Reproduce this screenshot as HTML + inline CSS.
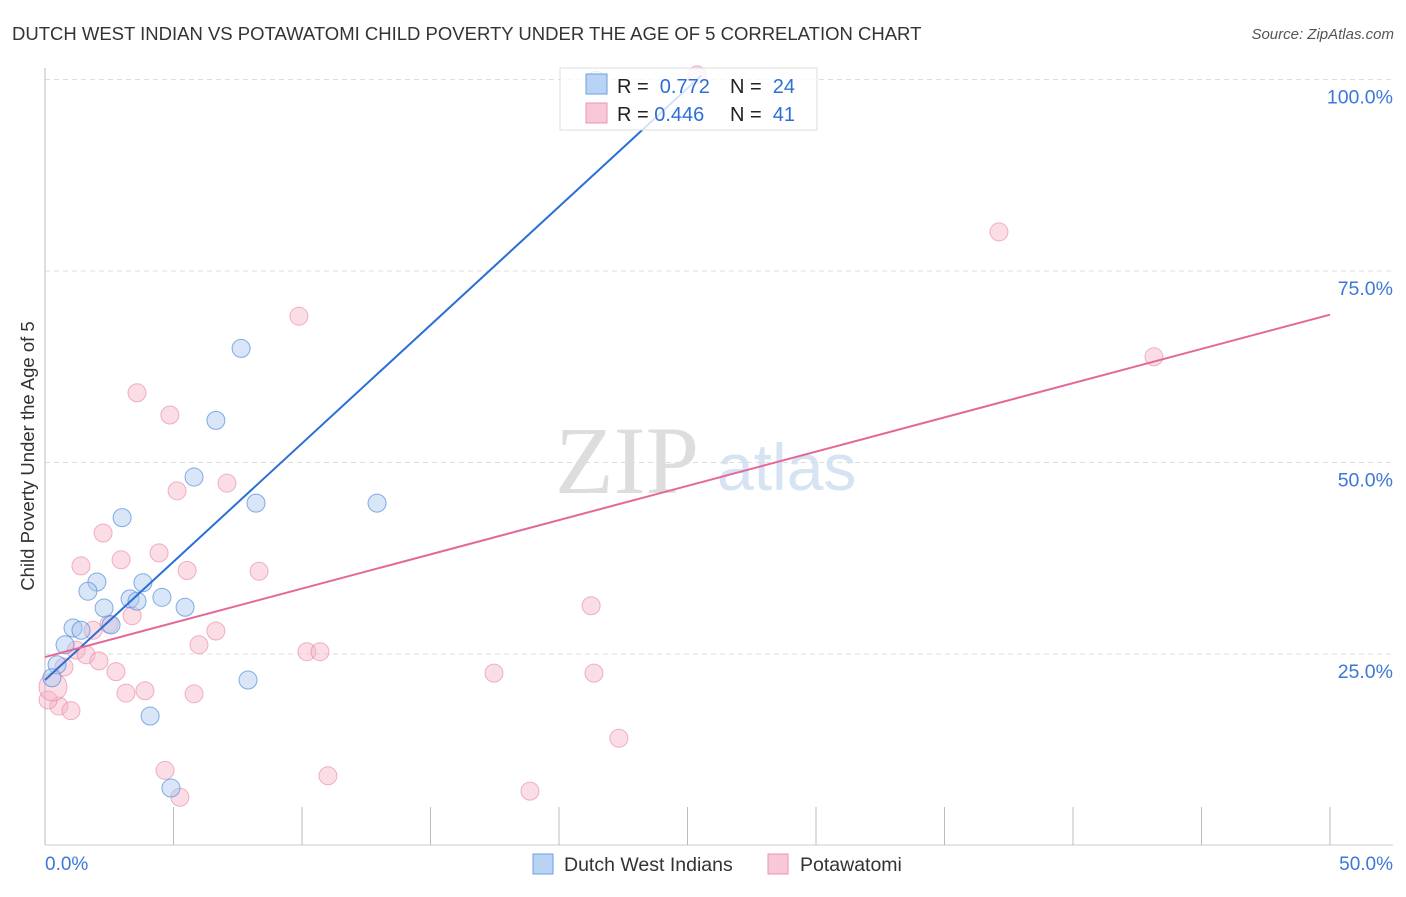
<!DOCTYPE html>
<html><head><meta charset="utf-8"><style>
body{margin:0;background:#fff;font-family:"Liberation Sans",sans-serif}
</style></head><body>
<svg id="c" width="1406" height="892" xmlns="http://www.w3.org/2000/svg">
<text x="12" y="40" font-size="18.5" fill="#333">DUTCH WEST INDIAN VS POTAWATOMI CHILD POVERTY UNDER THE AGE OF 5 CORRELATION CHART</text>
<text x="1394" y="39" font-size="15" fill="#555" font-style="italic" text-anchor="end">Source: ZipAtlas.com</text>
<text x="555" y="493" font-size="96" font-family="Liberation Serif,serif" fill="#ddd">ZIP</text>
<text x="717" y="490" font-size="66" fill="#d6e3f3">atlas</text>
<g id="grid"></g><g id="axes"></g><g id="pts"></g><g id="lines"></g>
<text transform="translate(34,456) rotate(-90)" font-size="18.5" fill="#333" text-anchor="middle">Child Poverty Under the Age of 5</text>
<g>
<rect x="560" y="68" width="257" height="62" fill="rgba(255,255,255,0.8)" stroke="#ddd"/>
<rect x="586" y="74" width="21" height="20" fill="#b9d3f5" stroke="#6a9fe0"/>
<rect x="586" y="103" width="21" height="20" fill="#f9c8d7" stroke="#ec93b0"/>
<text x="617" y="93" font-size="20" fill="#222">R = <tspan fill="#2d6fd6">&#160;0.772</tspan><tspan x="730">N = </tspan><tspan fill="#2d6fd6">&#160;24</tspan></text>
<text x="617" y="121" font-size="20" fill="#222">R = <tspan fill="#2d6fd6">0.446</tspan><tspan x="730">N = </tspan><tspan fill="#2d6fd6">&#160;41</tspan></text>
</g>
<g>
<rect x="533" y="854" width="20" height="20" fill="#b9d3f5" stroke="#6a9fe0"/>
<text x="564" y="871" font-size="19.5" fill="#333">Dutch West Indians</text>
<rect x="768" y="854" width="20" height="20" fill="#f9c8d7" stroke="#ec93b0"/>
<text x="800" y="871" font-size="19.5" fill="#333">Potawatomi</text>
</g>
</svg>
<script>
const yTicks=[25,50,75,100];
const xTickLabels=["0.0%","50.0%"];
const blueX=[21.44,7.63,6.65,5.80,8.21,12.92,3.00,2.02,1.67,3.81,2.30,3.31,3.58,4.55,5.45,2.57,1.09,1.40,0.78,0.47,0.27,7.90,4.09,4.90];
const blueY=[99.9,64.9,55.5,48.1,44.7,44.7,42.8,34.4,33.2,34.3,31.0,32.2,31.9,32.4,31.1,28.8,28.4,28.1,26.2,23.6,21.9,21.6,16.9,7.5];
const pinkX=[25.37,37.12,43.15,9.88,3.58,4.86,7.08,5.14,2.26,4.44,2.96,1.40,5.53,8.33,21.25,3.39,1.87,6.65,2.49,5.99,1.21,1.60,10.19,10.70,2.10,0.74,2.76,17.47,21.36,3.15,3.89,5.80,0.54,1.01,22.33,4.67,11.01,5.25,18.87,0.12,0.31];
const pinkY=[100.6,80.1,63.8,69.1,59.1,56.2,47.3,46.3,40.8,38.2,37.3,36.5,35.9,35.8,31.3,30.0,28.1,28.0,28.9,26.2,25.5,24.9,25.3,25.3,24.1,23.3,22.7,22.5,22.5,19.9,20.2,19.8,18.2,17.6,14.0,9.8,9.1,6.3,7.1,19.0,20.7];
const blueTrend=[21.6,3.09];
const pinkTrend=[24.6,0.894];
const NS="http://www.w3.org/2000/svg";
const X=v=>45+v/50*1285, Y=v=>845.5-v/25*191.5;
function mk(t,a,p){const e=document.createElementNS(NS,t);for(const k in a)e.setAttribute(k,a[k]);document.getElementById(p).appendChild(e);return e;}
yTicks.forEach(t=>{
 const l=mk('line',{x1:45,x2:1393,y1:Y(t),y2:Y(t),stroke:'#ddd','stroke-dasharray':'5,4'},'grid');
 
 
 const tx=mk('text',{x:1393,y:Y(t)+24,'font-size':19.5,fill:'#3b78d8','text-anchor':'end'},'grid');
 tx.textContent=t.toFixed(1)+'%';
 
 
});
mk('line',{x1:45,x2:45,y1:68,y2:845,stroke:'#bbb'},'axes');
mk('line',{x1:45,x2:1393,y1:845,y2:845,stroke:'#ccc'},'axes');
for(let i=0;i<=10;i++){const t=mk('line',{x1:X(i*5),x2:X(i*5),y1:807,y2:845,stroke:'#bbb'},'axes');
 
 }
[[0,'start',45],[50,'end',1393]].forEach((d,i)=>{const t=mk('text',{x:d[2],y:870,'font-size':19,fill:'#3b78d8','text-anchor':d[1]},'axes');t.textContent=xTickLabels[i];
 
 });
pinkX.forEach((x,i)=>{const c=mk('circle',{cx:X(x),cy:Y(pinkY[i]),r:i==pinkX.length-1?14:9,fill:'rgba(246,180,200,0.45)',stroke:'rgba(232,130,160,0.6)'},'pts');
 
 });
blueX.forEach((x,i)=>{const c=mk('circle',{cx:X(x),cy:Y(blueY[i]),r:9,fill:'rgba(170,200,240,0.45)',stroke:'rgba(80,140,220,0.7)'},'pts');
 
 });
const bx2=(100.5-blueTrend[0])/blueTrend[1];
const bl=mk('line',{x1:X(0),y1:Y(blueTrend[0]),x2:X(bx2),y2:Y(blueTrend[0]+blueTrend[1]*bx2),stroke:'#2a6fd6','stroke-width':2},'lines');


const pl=mk('line',{x1:X(0),y1:Y(pinkTrend[0]),x2:X(50),y2:Y(pinkTrend[0]+pinkTrend[1]*50),stroke:'#e4679a','stroke-width':2},'lines');


</script>
</body></html>
